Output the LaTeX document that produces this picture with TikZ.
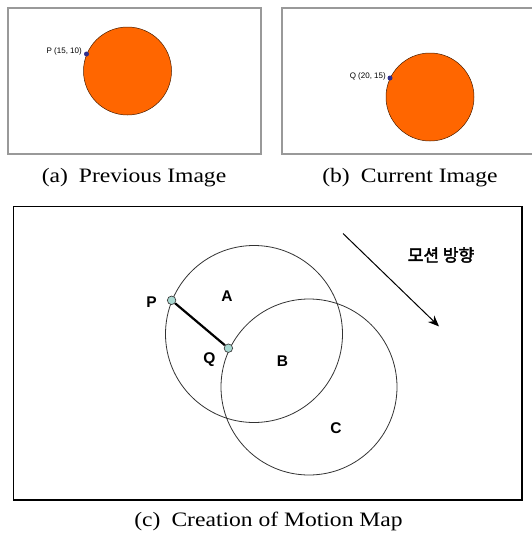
\documentclass[tikz,border=0pt]{standalone}
\usepackage{fontspec}
\setmainfont{Liberation Serif}[FakeStretch=1.15]
\newfontfamily\arialf{Liberation Sans}
\newfontfamily\krf{Noto Sans CJK KR}[AutoFakeBold=2.5]
\usetikzlibrary{arrows.meta}
\definecolor{orangefill}{HTML}{FF6600}
\definecolor{dotblue}{HTML}{2E2E8C}
\definecolor{dotcyan}{HTML}{A9D9D2}
\tikzset{
  x=1pt, y=-1pt,
  grayframe/.style={draw=black!40, line width=1.3pt},
  blackframe/.style={draw=black, line width=1.3pt},
  ball/.style={circle, draw=black!70!orangefill, line width=0.5pt, fill=orangefill, inner sep=0pt, minimum size=88pt},
  bluedot/.style={circle, fill=dotblue, inner sep=0pt, minimum size=5pt},
  smalllabel/.style={font=\arialf\fontsize{8}{9}\selectfont, inner sep=0pt},
  caption/.style={font=\fontsize{20.5}{22}\selectfont, inner sep=0pt},
  ring/.style={circle, draw=black!80, line width=0.8pt, inner sep=0pt},
  pointdot/.style={circle, draw=black!75, fill=dotcyan, line width=0.7pt, inner sep=0pt, minimum size=8.5pt},
  letter/.style={font=\arialf\bfseries\fontsize{15.5}{17}\selectfont, inner sep=0pt},
}
\begin{document}
\begin{tikzpicture}
\useasboundingbox (0,0) rectangle (531,538);
% (a)
\node[grayframe, rectangle, inner sep=0pt, minimum width=253pt, minimum height=146pt] (framea) at (134.5,81) {};
\node[ball] (balla) at (127.5,71) {};
\node[bluedot] (pa) at (86.5,54) {};
\node[smalllabel, anchor=east] (pal) at (82,51.5) {P (15, 10)};
\node[caption] (capa) at (134,178) {(a)\hspace{0.25em} Previous Image};
% (b)
\node[grayframe, rectangle, inner sep=0pt, minimum width=252pt, minimum height=146pt] (frameb) at (408,81) {};
\node[ball] (ballb) at (430,97) {};
\node[bluedot] (qb) at (390,78) {};
\node[smalllabel, anchor=east] (qbl) at (386,76) {Q (20, 15)};
\node[caption] (capb) at (410,178) {(b)\hspace{0.25em} Current Image};
% (c)
\node[blackframe, rectangle, inner sep=0pt, minimum width=508.5pt, minimum height=293.5pt] (framec) at (267.75,353.25) {};
\node[ring, minimum size=177pt] (circA) at (254,334) {};
\node[ring, minimum size=176pt] (circB) at (309,387) {};
\node[pointdot] (P) at (171.6,300.3) {};
\node[pointdot] (Q) at (228.4,348.2) {};
\draw[line width=2.2pt] (P) -- (Q);
\node[letter] (Pl) at (151.5,302) {P};
\node[letter] (Al) at (227,296) {A};
\node[letter] (Ql) at (209.5,359.5) {Q};
\node[letter] (Bl) at (282.5,361.5) {B};
\node[letter] (Cl) at (336,428) {C};
\coordinate (arrS) at (343,233.5);
\coordinate (arrE) at (439,326.4);
\draw[line width=1pt, -{Stealth[length=11pt, width=9pt]}] (arrS) -- (arrE);
\node[font=\krf\bfseries\fontsize{17}{19}\selectfont, inner sep=0pt] (dir) at (441,255) {모션 방향};
\node[caption] (capc) at (268.5,521) {(c)\hspace{0.25em} Creation of Motion Map};
\end{tikzpicture}
\end{document}
